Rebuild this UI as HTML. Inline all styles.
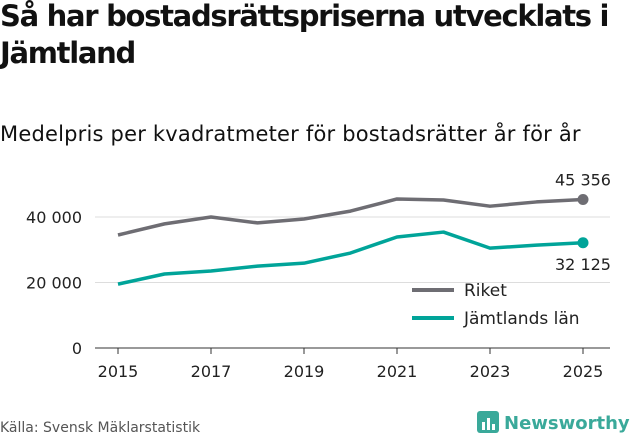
<!DOCTYPE html>
<html><head><meta charset="utf-8"><style>
body{margin:0;width:631px;height:439px;background:#fff;font-family:"DejaVu Sans","Liberation Sans",sans-serif;overflow:hidden;position:relative}
h1{position:absolute;left:0;top:-2px;margin:0;font-size:29px;line-height:37px;font-weight:bold;color:#111;white-space:nowrap;letter-spacing:-1.3px}
h2{position:absolute;left:0;top:122px;margin:0;font-size:21px;font-weight:normal;color:#111;letter-spacing:0.2px}
.src{position:absolute;left:0;top:420px;font-size:14px;color:#555}
</style></head><body>
<h1>Så har bostadsrättspriserna utvecklats i<br>Jämtland</h1>
<h2>Medelpris per kvadratmeter för bostadsrätter år för år</h2>
<svg id="c" width="631" height="439" style="position:absolute;left:0;top:0"></svg>
<div class="src">Källa: Svensk Mäklarstatistik</div>
<div style="position:absolute;left:476px;top:410px;display:flex;align-items:center">
<svg width="24" height="26"><rect x="1" y="1" width="22" height="22" rx="3" fill="#3aa99a"/><rect x="6" y="12" width="3" height="8" fill="#fff"/><rect x="11" y="8" width="3" height="12" fill="#fff"/><rect x="16" y="14" width="3" height="6" fill="#fff"/></svg>
<span style="font-size:18px;font-weight:bold;color:#3aa99a;margin-left:4px">Newsworthy</span></div>
<script>
const years=[2015,2016,2017,2018,2019,2020,2021,2022,2023,2024,2025];
const riket=[34500,37900,40000,38200,39400,41800,45500,45200,43300,44600,45356];
const jamt=[19500,22600,23500,25000,25900,29000,33900,35400,30500,31400,32125];
const yTicks=[0,20000,40000];
const yTickLabels=["0","20 000","40 000"];
const xTicks=[2015,2017,2019,2021,2023,2025];
const svg=document.getElementById('c');const NS='http://www.w3.org/2000/svg';
const x=v=>118+(v-2015)*46.5;const y=v=>348-v*65.5/20000;
function el(t,a,p){const e=document.createElementNS(NS,t);for(const k in a)e.setAttribute(k,a[k]);(p||svg).appendChild(e);return e;}
yTicks.forEach((t,i)=>{
 const l=el('line',{x1:95,x2:610,y1:y(t),y2:y(t),stroke:t===0?'#333':'#ddd','stroke-width':1});
 
 
 const tx=el('text',{x:82,y:y(t)+6,'text-anchor':'end','font-size':16,fill:'#222'});tx.textContent=yTickLabels[i];
 
 
});
xTicks.forEach(t=>{
 const l=el('line',{x1:x(t),x2:x(t),y1:348,y2:354,stroke:'#333'});
 
 
 const tx=el('text',{x:x(t),y:377,'text-anchor':'middle','font-size':16,fill:'#222'});tx.textContent=t;
 
 
});
function series(vals,col,name){
 const p=el('polyline',{points:vals.map((v,i)=>x(years[i])+','+y(v)).join(' '),fill:'none',stroke:col,'stroke-width':3.5,'stroke-linejoin':'round'});
 
 
 const n=vals.length-1;
 const c=el('circle',{cx:x(years[n]),cy:y(vals[n]),r:5.5,fill:col});
 
 
}
series(riket,'#6e6d73','riket');series(jamt,'#00a499','jamtland');
const fmt=v=>String(v).replace(/\B(?=(\d{3})+(?!\d))/g,' ');
let t1=el('text',{x:583,y:y(riket[10])-14,'text-anchor':'middle','font-size':16,fill:'#222'});t1.textContent=fmt(riket[10]);


let t2=el('text',{x:583,y:y(jamt[10])+27,'text-anchor':'middle','font-size':16,fill:'#222'});t2.textContent=fmt(jamt[10]);


[['Riket','#6e6d73',290],['Jämtlands län','#00a499',318]].forEach(([n,c,yy])=>{
 const l=el('line',{x1:412,x2:454,y1:yy,y2:yy,stroke:c,'stroke-width':4});
 
 
 const t=el('text',{x:464,y:yy+6,'font-size':17,fill:'#222'});t.textContent=n;
 
 
});
</script>
</body></html>
